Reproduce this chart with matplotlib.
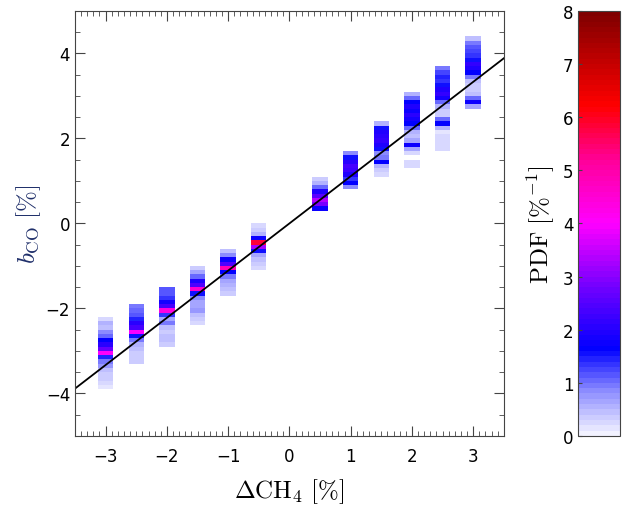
import numpy as np
import matplotlib
matplotlib.use("Agg")
import matplotlib.pyplot as plt
from matplotlib.colors import LinearSegmentedColormap, Normalize
from matplotlib.ticker import MultipleLocator

plt.rcParams['mathtext.fontset'] = 'cm'
plt.rcParams['font.family'] = ['DejaVu Sans']

# ---- data ----
x_centers = [-3.0, -2.5, -2.0, -1.5, -1.0, -0.5, 0.5, 1.0, 1.5, 2.0, 2.5, 3.0]
top_bin = [-2.25, -1.95, -1.55, -1.05, -0.65, -0.05, 1.05, 1.65, 2.35, 3.05, 3.65, 4.35]
bin_height = 0.1
pdf_m30 = [0.2, 0.5, 0.4, 0.8, 1.0, 1.6, 2.0, 2.6, 4.0, 1.4, 0.9, 0.7, 0.4, 0.3, 0.3, 0.2, 0.15]
pdf_m25 = [0.9, 1.0, 1.1, 1.4, 2.0, 2.3, 3.9, 1.5, 0.9, 0.5, 0.4, 0.35, 0.35, 0.35]
pdf_m20 = [1.1, 1.1, 1.3, 1.8, 2.3, 4.3, 1.3, 0.6, 0.9, 0.4, 0.35, 0.4, 0.4, 0.35]
pdf_m15 = [0.3, 0.6, 1.0, 1.9, 2.4, 4.5, 1.5, 0.8, 0.6, 0.6, 0.7, 0.4, 0.3, 0.25]
pdf_m10 = [0.4, 0.8, 1.7, 2.4, 4.8, 1.6, 0.9, 0.6, 0.5, 0.4, 0.35]
pdf_m05 = [0.2, 0.3, 0.5, 1.7, 5.8, 3.2, 1.5, 0.6, 0.4, 0.3, 0.2]
pdf_p05 = [0.35, 0.5, 1.0, 1.9, 2.5, 3.3, 2.8, 1.7]
pdf_p10 = [0.8, 1.5, 2.0, 2.3, 2.2, 1.9, 1.3, 1.6, 0.8]
pdf_p15 = [0.5, 1.5, 1.9, 2.0, 2.1, 1.9, 1.5, 0.8, 0.9, 1.6, 0.5, 0.3, 0.25]
pdf_p20 = [0.5, 1.0, 1.6, 1.9, 1.7, 2.0, 1.8, 1.6, 1.0, 0.5, 0.4, 0.6, 1.7, 0.6, 0.25, 0.0, 0.2, 0.2]
pdf_p25 = [0.9, 1.2, 1.4, 1.3, 1.5, 1.9, 2.1, 1.8, 1.0, 0.5, 0.35, 0.35, 1.0, 1.6, 0.5, 0.1, 0.2, 0.2, 0.2, 0.2]
pdf_p30 = [0.4, 0.9, 1.1, 1.2, 1.3, 1.5, 2.1, 1.9, 1.6, 0.9, 0.4, 0.35, 0.35, 0.4, 1.0, 1.7, 0.6]
pdf_columns = [pdf_m30, pdf_m25, pdf_m20, pdf_m15, pdf_m10, pdf_m05,
               pdf_p05, pdf_p10, pdf_p15, pdf_p20, pdf_p25, pdf_p30]
fit_intercept = 0.0
fit_slope = 1.11
x_ticks = [-3, -2, -1, 0, 1, 2, 3]
y_ticks = [-4, -2, 0, 2, 4]
cb_ticks = [0, 1, 2, 3, 4, 5, 6, 7, 8]

# ---- colormap ----
nodes = [
    (0.00, (0.95, 0.95, 1.00)),
    (0.10, (0.55, 0.55, 1.00)),
    (0.18, (0.12, 0.12, 1.00)),
    (0.20, (0.00, 0.00, 1.00)),
    (0.35, (0.45, 0.00, 1.00)),
    (0.50, (1.00, 0.00, 1.00)),
    (0.65, (1.00, 0.00, 0.60)),
    (0.78, (1.00, 0.00, 0.00)),
    (1.00, (0.50, 0.00, 0.00)),
]
cmap = LinearSegmentedColormap.from_list("pdfmap", nodes, N=80)
norm = Normalize(vmin=0, vmax=8)

fig = plt.figure(figsize=(6.25, 5.06), dpi=100)
ax = fig.add_axes([0.12, 0.1364, 0.686, 0.840])
cax = fig.add_axes([0.925, 0.1364, 0.067, 0.840])

half_w = 0.125
for xc, yt, vals in zip(x_centers, top_bin, pdf_columns):
    vals = np.array(vals, dtype=float)
    n = len(vals)
    centers = yt - bin_height * np.arange(n)
    y_edges = np.concatenate([centers + bin_height / 2, [centers[-1] - bin_height / 2]])
    x_edges = np.array([xc - half_w, xc + half_w])
    Z = np.ma.masked_less_equal(vals.reshape(n, 1), 0)
    ax.pcolormesh(x_edges, y_edges, Z, cmap=cmap, norm=norm, shading='flat')

xl = np.array([-3.5, 3.5])
ax.plot(xl, fit_intercept + fit_slope * xl, color='black', lw=1.3)

ax.set_xlim(-3.5, 3.5)
ax.set_ylim(-5, 5)
ax.set_xticks(x_ticks)
ax.set_yticks(y_ticks)
ax.xaxis.set_minor_locator(MultipleLocator(0.1))
ax.yaxis.set_minor_locator(MultipleLocator(0.5))
ax.tick_params(which='both', direction='in', top=True, right=True, labelsize=12, color='#444444')
ax.tick_params(which='major', length=7)
ax.tick_params(which='minor', length=3.5)
ax.tick_params(axis='x', pad=8)
for s in ax.spines.values():
    s.set_color('#444444')
ax.set_xlabel(r'$\Delta\mathrm{CH}_4\ [\%]$', fontsize=18, labelpad=8)
ax.set_ylabel(r'$b_{\mathrm{CO}}\ [\%]$', fontsize=18, labelpad=2, color='#1f2f6a')

sm = matplotlib.cm.ScalarMappable(norm=norm, cmap=cmap)
cb = fig.colorbar(sm, cax=cax)
cb.set_ticks(cb_ticks)
cax.yaxis.set_ticks_position('left')
cax.yaxis.set_label_position('left')
cax.tick_params(labelsize=12, direction='in', length=3, color='#444444')
cb.outline.set_edgecolor('#444444')
cb.set_label(r'$\mathrm{PDF}\ [\%^{-1}]$', fontsize=18, labelpad=4)

fig.savefig('out.png', dpi=100)
